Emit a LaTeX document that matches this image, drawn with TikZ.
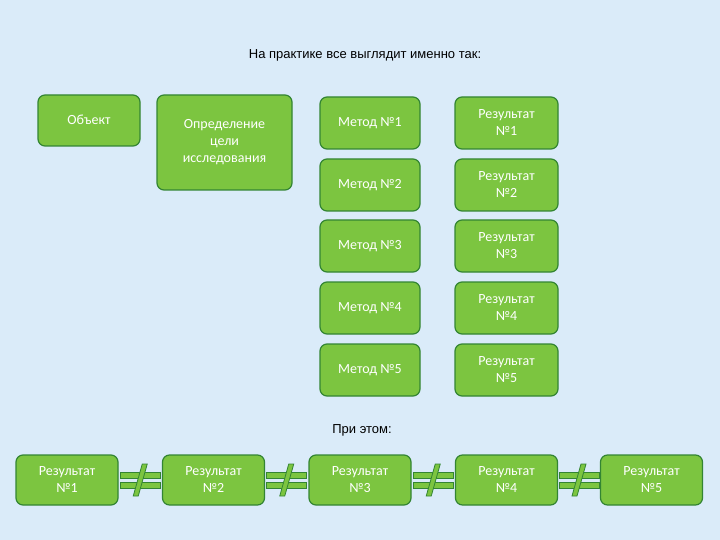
\documentclass[tikz,border=0pt]{standalone}
\usepackage{fontspec}
\setmainfont{Carlito}
\newfontfamily\arialf{Liberation Sans}
\usetikzlibrary{calc}
\begin{document}
\begin{tikzpicture}[x=1pt,y=-1pt,
  gbox/.style={draw=green!40!black!80, line width=1.2pt, fill=grn, rounded corners=7pt, text=white, font=\fontsize{14}{17}\selectfont, align=center, inner sep=0pt},
  neq/.style={fill=grn, draw=green!40!black!80, line width=0.8pt}]
\definecolor{bg}{HTML}{DAEBF9}
\definecolor{grn}{HTML}{7CC540}
\fill[bg] (0,0) rectangle (720,540);
\useasboundingbox (0,0) rectangle (720,540);
\node (title) at (365,55) {\arialf\fontsize{13}{16}\selectfont На практике все выглядит именно так:};
\node (pri) at (362,430) {\arialf\fontsize{13}{16}\selectfont При этом:};
\node[gbox, minimum width=102pt, minimum height=51pt] (obj) at (89,120.5) {};
\node[text=white,font=\fontsize{14}{17}\selectfont] at (89,120) {Объект};
\node[gbox, minimum width=135pt, minimum height=95pt] (goal) at (224.5,142.5) {};
\node[text=white,font=\fontsize{14}{17}\selectfont,align=center] at (224.5,142) {Определение\\цели\\исследования};
\foreach \i/\y in {1/123,2/185,3/246,4/308,5/370}{
  \node[gbox, minimum width=100pt, minimum height=52pt] (m\i) at (370,\y) {Метод №\i};
  \node[gbox, minimum width=103pt, minimum height=52pt] (r\i) at (506.5,\y) {Результат\\№\i};
}
\foreach \i/\x in {1/67,2/213.5,3/360,4/506.5,5/651.5}{
  \node[gbox, minimum width=102pt, minimum height=50pt] (b\i) at (\x,480) {Результат\\№\i};
}
\foreach \a/\b in {1/2,2/3,3/4,4/5}{
  \coordinate (c\a) at ($(b\a.east)!0.5!(b\b.west)$);
  \begin{scope}[shift={(c\a)}]
    \path[neq] (-20,-8) rectangle (20,-2);
    \path[neq] (-20,2) rectangle (20,8);
    \path[neq] (2,-16) -- (7,-16) -- (-2,16) -- (-7,16) -- cycle;
  \end{scope}
}
\end{tikzpicture}
\end{document}
